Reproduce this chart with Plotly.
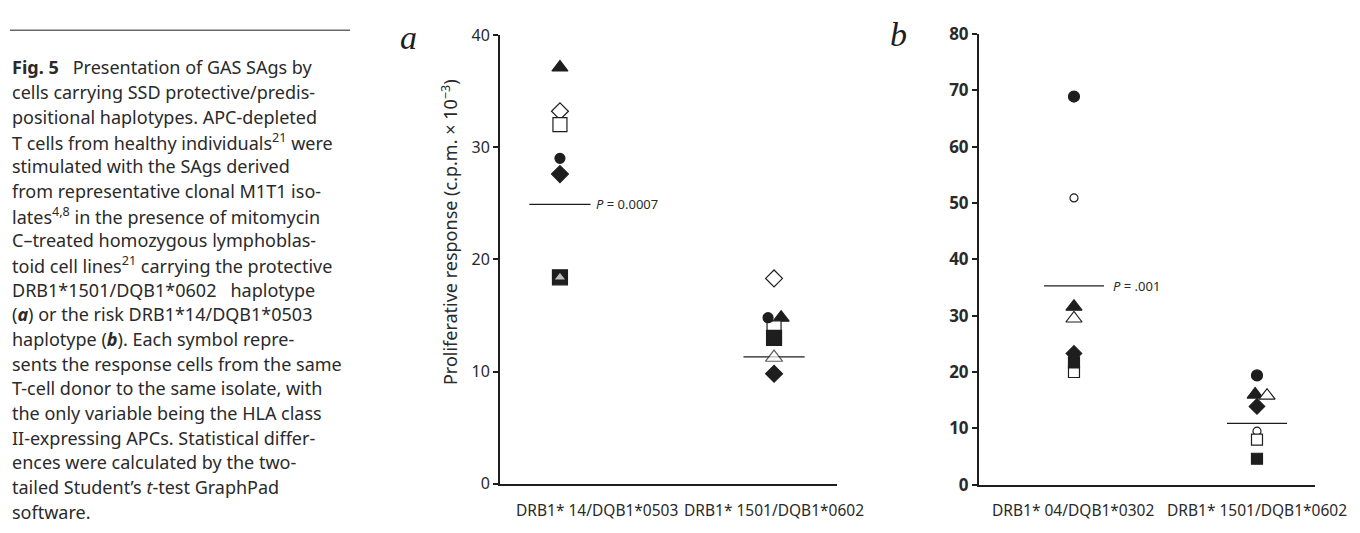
import plotly.graph_objects as go

W, H = 1360, 533

# ---------------- data ----------------
categories_a = ["DRB1* 14/DQB1*0503", "DRB1* 1501/DQB1*0602"]
categories_b = ["DRB1* 04/DQB1*0302", "DRB1* 1501/DQB1*0602"]
cat_pos = [1, 2]

# panel a values per symbol: [category 1, category 2]
a_filled_triangle = [37.1, 14.8]
a_open_diamond = [33.2, 18.3]
a_open_square = [32.0, 13.9]
a_filled_circle = [29.0, 14.8]
a_filled_diamond = [27.6, 9.8]
a_filled_square = [18.4, 13.0]
a_open_triangle = [18.4, 11.25]
a_means = [24.9, 11.3]
a_p_text = "<i>P</i> = 0.0007"

# panel b values per symbol: [category 1, category 2]
b_filled_circle = [68.9, 19.4]
b_open_circle = [50.9, 9.5]
b_filled_triangle = [31.6, 16.0]
b_open_triangle = [29.5, 15.8]
b_filled_diamond = [23.3, 13.9]
b_filled_square = [21.7, 4.6]
b_open_square = [20.0, 8.0]
b_means = [35.3, 10.9]
b_p_text = "<i>P</i> = .001"

a_yticks = [0, 10, 20, 30, 40]
b_yticks = [0, 10, 20, 30, 40, 50, 60, 70, 80]

caption_lines = [
    "<b>Fig. 5</b>   Presentation of GAS SAgs by",
    "cells carrying SSD protective/predis-",
    "positional haplotypes. APC-depleted",
    "T cells from healthy individuals<sup>21</sup> were",
    "stimulated with the SAgs derived",
    "from representative clonal M1T1 iso-",
    "lates<sup>4,8</sup> in the presence of mitomycin",
    "C–treated homozygous lymphoblas-",
    "toid cell lines<sup>21</sup> carrying the protective",
    "DRB1*1501/DQB1*0602   haplotype",
    "(<b><i>a</i></b>) or the risk DRB1*14/DQB1*0503",
    "haplotype (<b><i>b</i></b>). Each symbol repre-",
    "sents the response cells from the same",
    "T-cell donor to the same isolate, with",
    "the only variable being the HLA class",
    "II-expressing APCs. Statistical differ-",
    "ences were calculated by the two-",
    "tailed Student’s <i>t</i>-test GraphPad",
    "software.",
]

INK = "#1e1e1e"
TXT = "#2a2a2a"
FONT = "Noto Sans"

fig = go.Figure()


def px_x(p):
    return p / W


def px_y(p):
    return 1 - p / H


def add_pts(vals, symbol, size, filled, xa, ya, offsets=(0, 0)):
    fig.add_trace(go.Scatter(
        x=[c + o for c, o in zip(cat_pos, offsets)], y=vals, mode="markers",
        xaxis=xa, yaxis=ya, showlegend=False, hoverinfo="y",
        marker=dict(symbol=symbol, size=size,
                    color=INK if filled else "white",
                    line=dict(color=INK, width=1.2)),
    ))


def add_means(vals, half, xa, ya):
    for c, m in zip(cat_pos, vals):
        fig.add_trace(go.Scatter(
            x=[c - half, c + half], y=[m, m], mode="lines",
            xaxis=xa, yaxis=ya, showlegend=False, hoverinfo="skip",
            line=dict(color=INK, width=1.3),
        ))


# panel a
add_means(a_means, 0.143, "x", "y")
add_pts(a_filled_triangle, "triangle-up", 14, True, "x", "y", (0, 0.033))
add_pts(a_open_diamond, "diamond", 13, False, "x", "y")
add_pts(a_open_square, "square", 14, False, "x", "y")
add_pts(a_filled_circle, "circle", 10, True, "x", "y", (0, -0.028))
add_pts(a_filled_diamond, "diamond", 13, True, "x", "y")
add_pts(a_filled_square, "square", 15, True, "x", "y")
add_pts(a_open_triangle, "triangle-up", [11, 15], False, "x", "y")

# panel b
add_means(b_means, 0.164, "x2", "y2")
add_pts(b_filled_circle, "circle", 11, True, "x2", "y2")
add_pts(b_open_circle, "circle", 8, False, "x2", "y2")
add_pts(b_filled_triangle, "triangle-up", 14, True, "x2", "y2", (0, -0.01))
add_pts(b_open_triangle, "triangle-up", 14, False, "x2", "y2", (0, 0.055))
add_pts(b_open_square, "square", 11, False, "x2", "y2")
add_pts(b_filled_square, "square", 11, True, "x2", "y2")
add_pts(b_filled_diamond, "diamond", 12, True, "x2", "y2")

axis_common = dict(showgrid=False, zeroline=False, showline=True,
                   linecolor=INK, linewidth=2, mirror=False)

fig.update_layout(
    width=W, height=H,
    margin=dict(l=0, r=0, t=0, b=0),
    paper_bgcolor="white", plot_bgcolor="white",
    xaxis=dict(domain=[px_x(500), px_x(837)], range=[0.72, 2.294],
               showticklabels=False, ticks="", anchor="y", **axis_common),
    yaxis=dict(domain=[px_y(493), px_y(24)], range=[0, 40], anchor="x",
               tickvals=a_yticks, ticks="outside", ticklen=5, tickwidth=1.5,
               tickcolor=INK, tickfont=dict(family=FONT, size=16, color=TXT),
               **axis_common),
    xaxis2=dict(domain=[px_x(979), px_x(1315)], range=[0.481, 2.317],
                showticklabels=False, ticks="", anchor="y2", **axis_common),
    yaxis2=dict(domain=[px_y(494), px_y(23)], range=[0, 80], anchor="x2",
                tickvals=b_yticks, ticks="outside", ticklen=5, tickwidth=1.5,
                tickcolor=INK,
                tickfont=dict(family=FONT, size=17, color=TXT, weight="bold"),
                **axis_common),
)

ann = []
# category labels
ann.append(dict(x=px_x(597), y=px_y(520), text=categories_a[0]))
ann.append(dict(x=px_x(774), y=px_y(520), text=categories_a[1]))
ann.append(dict(x=px_x(1073), y=px_y(520), text=categories_b[0]))
ann.append(dict(x=px_x(1257), y=px_y(520), text=categories_b[1]))
for a in ann:
    a.update(xref="paper", yref="paper", showarrow=False,
             font=dict(family=FONT, size=15.5, color=TXT),
             xanchor="center", yanchor="middle")

# P values
ann.append(dict(x=1 + 0.16, y=a_means[0], xref="x", yref="y", text=a_p_text,
                showarrow=False, xanchor="left", yanchor="middle",
                font=dict(family=FONT, size=13, color=TXT)))
ann.append(dict(x=1 + 0.2, y=b_means[0], xref="x2", yref="y2", text=b_p_text,
                showarrow=False, xanchor="left", yanchor="middle",
                font=dict(family=FONT, size=13, color=TXT)))

# y-axis title panel a
ann.append(dict(x=px_x(450), y=px_y(230), xref="paper", yref="paper",
                text="Proliferative response (c.p.m. × 10<sup>−3</sup>)",
                textangle=-90, showarrow=False, xanchor="center", yanchor="middle",
                font=dict(family=FONT, size=18, color=TXT)))

# panel letters
ann.append(dict(x=px_x(408), y=px_y(27), xref="paper", yref="paper", text="<i>a</i>",
                showarrow=False, xanchor="center", yanchor="middle",
                font=dict(family="Liberation Serif", size=34, color=INK)))
ann.append(dict(x=px_x(898), y=px_y(24), xref="paper", yref="paper", text="<i>b</i>",
                showarrow=False, xanchor="center", yanchor="middle",
                font=dict(family="Liberation Serif", size=34, color=INK)))

# caption
for i, line in enumerate(caption_lines):
    ann.append(dict(x=px_x(10), y=px_y(58 + i * 25.8), xref="paper", yref="paper",
                    text=line, showarrow=False, xanchor="left", yanchor="middle",
                    font=dict(family=FONT, size=18, color=TXT)))

fig.update_layout(annotations=ann)

fig.add_shape(type="line", xref="paper", yref="paper",
              x0=px_x(10), x1=px_x(350), y0=px_y(19), y1=px_y(19),
              line=dict(color=INK, width=1))

fig.write_html("out.html")
